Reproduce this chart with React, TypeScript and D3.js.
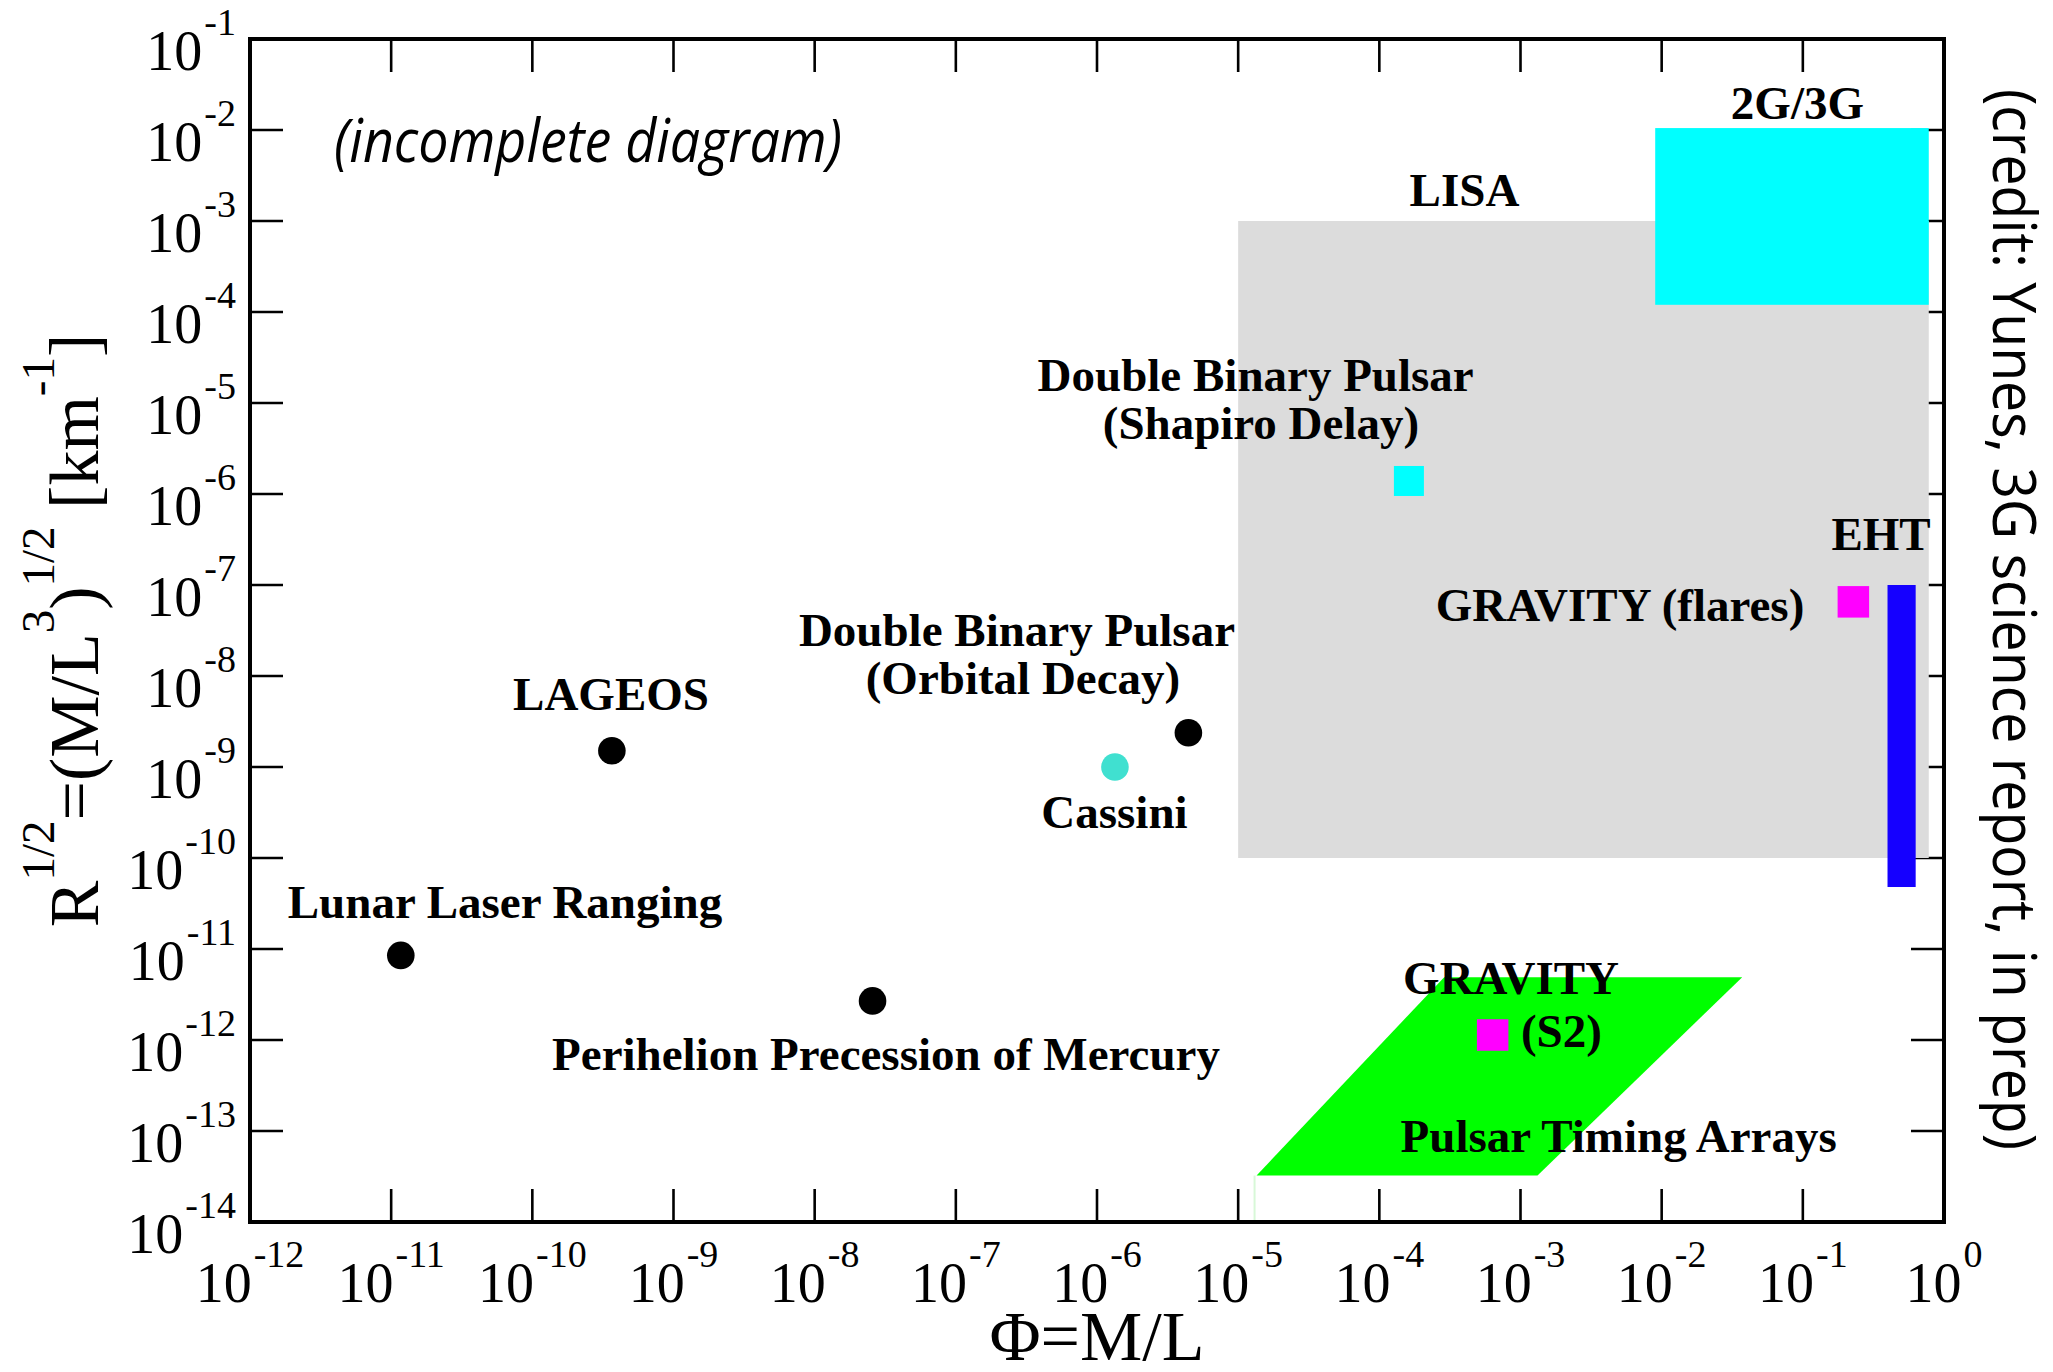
import React, { useRef, useEffect } from 'react'
import { select, scaleLog, line } from 'd3'

// point measurements (circles)
const dotNames = ['Lunar Laser Ranging', 'LAGEOS', 'Perihelion Precession of Mercury', 'Cassini', 'Double Binary Pulsar (Orbital Decay)']
const dotPhi = [1.17e-11, 3.66e-10, 2.57e-8, 1.34e-6, 4.44e-6]
const dotR = [8.5e-12, 1.51e-9, 2.69e-12, 1.0e-9, 2.38e-9]

// point measurements (squares)
const squareNames = ['Double Binary Pulsar (Shapiro Delay)', 'GRAVITY (flares)', 'GRAVITY (S2)']
const squarePhi = [1.62e-4, 0.228, 6.35e-4]
const squareR = [1.39e-6, 6.53e-8, 1.135e-12]

// rectangular regions
const regionNames = ['LISA', '2G/3G', 'EHT']
const regionPhiMin = [1e-5, 9.0e-3, 0.398]
const regionPhiMax = [0.78, 0.78, 0.63]
const regionRMin = [1e-10, 1.2e-4, 4.8e-11]
const regionRMax = [1e-3, 1.05e-2, 1e-7]

// pulsar timing arrays (parallelogram corners)
const ptaPhi = [1.35e-5, 1.32e-3, 3.72e-2, 2.88e-4]
const ptaR = [3.24e-14, 3.24e-14, 4.9e-12, 4.9e-12]

// annotations, placed in data coordinates
const labelTexts = ['2G/3G', 'LISA', 'Double Binary Pulsar', '(Shapiro Delay)', 'EHT', 'GRAVITY (flares)',
  'Double Binary Pulsar', '(Orbital Decay)', 'LAGEOS', 'Cassini', 'Lunar Laser Ranging',
  'Perihelion Precession of Mercury', 'GRAVITY', '(S2)', 'Pulsar Timing Arrays']
const labelPhi = [0.0916, 4.01e-4, 1.33e-5, 1.45e-5, 0.358, 5.07e-3, 2.71e-7, 2.99e-7, 3.61e-10, 1.33e-6,
  6.4e-11, 3.2e-8, 8.57e-4, 1.007e-3, 1.415e-4]
const labelR = [1.312e-2, 1.46e-3, 1.36e-5, 4.02e-6, 2.43e-7, 4.06e-8, 2.16e-8, 6.34e-9, 4.23e-9, 2.15e-10,
  2.17e-11, 4.68e-13, 3.2e-12, 8.43e-13, 5.93e-14]
const labelStart = ['(S2)', 'Pulsar Timing Arrays']

// tick exponents
const xTickExps = [-12, -11, -10, -9, -8, -7, -6, -5, -4, -3, -2, -1, 0]
const yTickExps = [-14, -13, -12, -11, -10, -9, -8, -7, -6, -5, -4, -3, -2, -1]

const regionColors = { 'LISA': '#dcdcdc', '2G/3G': '#00ffff', 'EHT': '#1500ff' }
const dotColors = { 'Cassini': '#40e0d0' }
const squareColors = { 'Double Binary Pulsar (Shapiro Delay)': '#00ffff' }

const serif = "'Liberation Serif', 'Times New Roman', serif"
const sans = "'Open Sans', 'Lato', sans-serif"

const App = () => {
  const svgRef = useRef()

  const width = 2053
  const height = 1372
  const margin = { top: 39, right: 109, bottom: 150, left: 250 }

  const x = scaleLog().domain([1e-12, 1]).range([margin.left, width - margin.right])
  const y = scaleLog().domain([1e-1, 1e-14]).range([margin.top, height - margin.bottom])

  useEffect(() => {
    const svg = select(svgRef.current)
    svg.selectAll('*').remove()
    svg.attr('width', width).attr('height', height).attr('viewBox', [0, 0, width, height])

    const x0 = margin.left, x1 = width - margin.right
    const y0 = margin.top, y1 = height - margin.bottom
    const tickLen = 33

    svg.append('rect').attr('width', width).attr('height', height).attr('fill', 'white')

    // ticks (inward, all four sides)
    const ticks = svg.append('g').attr('stroke', 'black').attr('stroke-width', 2.6)
    xTickExps.forEach(e => {
      const px = x(Math.pow(10, e))
      ticks.append('line').attr('x1', px).attr('x2', px).attr('y1', y1).attr('y2', y1 - tickLen)
      ticks.append('line').attr('x1', px).attr('x2', px).attr('y1', y0).attr('y2', y0 + tickLen)
    })
    yTickExps.forEach(e => {
      const py = y(Math.pow(10, e))
      ticks.append('line').attr('x1', x0).attr('x2', x0 + tickLen).attr('y1', py).attr('y2', py)
      ticks.append('line').attr('x1', x1).attr('x2', x1 - tickLen).attr('y1', py).attr('y2', py)
    })

    // regions
    regionNames.forEach((name, i) => {
      svg.append('rect')
        .attr('x', x(regionPhiMin[i]))
        .attr('y', y(regionRMax[i]))
        .attr('width', x(regionPhiMax[i]) - x(regionPhiMin[i]))
        .attr('height', y(regionRMin[i]) - y(regionRMax[i]))
        .attr('fill', regionColors[name])
    })

    // PTA parallelogram
    const pta = ptaPhi.map((p, i) => [p, ptaR[i]])
    const ptaLine = line().x(d => x(d[0])).y(d => y(d[1]))
    svg.append('path')
      .datum(pta)
      .attr('fill', '#00ff00')
      .attr('d', d => ptaLine(d) + 'Z')
    // faint edge left below the PTA corner
    svg.append('line')
      .attr('x1', x(ptaPhi[0]) - 2).attr('x2', x(ptaPhi[0]) - 2)
      .attr('y1', y(ptaR[0])).attr('y2', y1)
      .attr('stroke', '#d8f8d8').attr('stroke-width', 2)

    // circles
    dotNames.forEach((name, i) => {
      svg.append('circle')
        .attr('cx', x(dotPhi[i]))
        .attr('cy', y(dotR[i]))
        .attr('r', 13.8)
        .attr('fill', dotColors[name] || 'black')
    })

    // squares
    squareNames.forEach((name, i) => {
      const s = squareColors[name] ? 30 : 31.5
      svg.append('rect')
        .attr('x', x(squarePhi[i]) - s / 2)
        .attr('y', y(squareR[i]) - s / 2)
        .attr('width', s)
        .attr('height', s)
        .attr('fill', squareColors[name] || '#ff00ff')
    })

    // labels
    labelTexts.forEach((t, i) => {
      svg.append('text')
        .attr('x', x(labelPhi[i]))
        .attr('y', y(labelR[i]))
        .attr('text-anchor', labelStart.includes(t) ? 'start' : 'middle')
        .attr('font-family', serif)
        .attr('font-weight', 'bold')
        .attr('font-size', 47)
        .style('white-space', 'pre')
        .text(t)
    })

    // frame
    svg.append('rect')
      .attr('x', x0).attr('y', y0)
      .attr('width', x1 - x0).attr('height', y1 - y0)
      .attr('fill', 'none').attr('stroke', 'black').attr('stroke-width', 4)

    // tick labels
    xTickExps.forEach(e => {
      const t = svg.append('text')
        .attr('x', x(Math.pow(10, e)))
        .attr('y', y1 + 80)
        .attr('text-anchor', 'middle')
        .attr('font-family', serif)
        .attr('font-size', 56)
      t.append('tspan').text('10')
      t.append('tspan').attr('dx', 2).attr('dy', -35).attr('font-size', 38).text(e)
    })
    yTickExps.forEach(e => {
      const t = svg.append('text')
        .attr('x', x0 - 14)
        .attr('y', y(Math.pow(10, e)) + 31)
        .attr('text-anchor', 'end')
        .attr('font-family', serif)
        .attr('font-size', 56)
      t.append('tspan').text('10')
      t.append('tspan').attr('dx', 2).attr('dy', -35).attr('font-size', 38).text(e)
    })

    // axis titles
    svg.append('text')
      .attr('x', (x0 + x1) / 2)
      .attr('y', 1360)
      .attr('text-anchor', 'middle')
      .attr('font-family', serif)
      .attr('font-size', 70)
      .text('Φ=M/L')

    const yt = svg.append('text')
      .attr('transform', `translate(98,${(y0 + y1) / 2}) rotate(-90)`)
      .attr('text-anchor', 'middle')
      .attr('font-family', serif)
      .attr('font-size', 70)
      .style('white-space', 'pre')
    const parts = [['R', 0], ['1/2', 1], ['=(M/L', 0], ['3', 1], [')', 0], ['1/2', 1], [' [km', 0], ['-1', 1], [']', 0]]
    let up = 0
    parts.forEach(([s, sup]) => {
      const shift = sup ? -44 : 0
      yt.append('tspan')
        .attr('dy', shift - up)
        .attr('font-size', sup ? 47 : 70)
        .text(s)
      up = shift
    })

    // notes
    svg.append('text')
      .attr('x', 334)
      .attr('y', 162)
      .attr('font-family', sans)
      .attr('font-style', 'italic')
      .attr('font-size', 60)
      .attr('textLength', 508)
      .attr('lengthAdjust', 'spacingAndGlyphs')
      .text('(incomplete diagram)')

    svg.append('text')
      .attr('transform', `translate(1993,619.5) rotate(90)`)
      .attr('text-anchor', 'middle')
      .attr('font-family', sans)
      .attr('font-size', 60)
      .attr('textLength', 1061)
      .attr('lengthAdjust', 'spacingAndGlyphs')
      .text('(credit: Yunes, 3G science report, in prep)')
  }, [])

  return (
    <div className="viz-container">
      <svg className="chart" ref={svgRef}></svg>
      <style>{`
        body { margin: 0; }
        .chart { position: absolute; left: 0; top: 0; display: block; }
      `}</style>
    </div>
  )
}

export default App
